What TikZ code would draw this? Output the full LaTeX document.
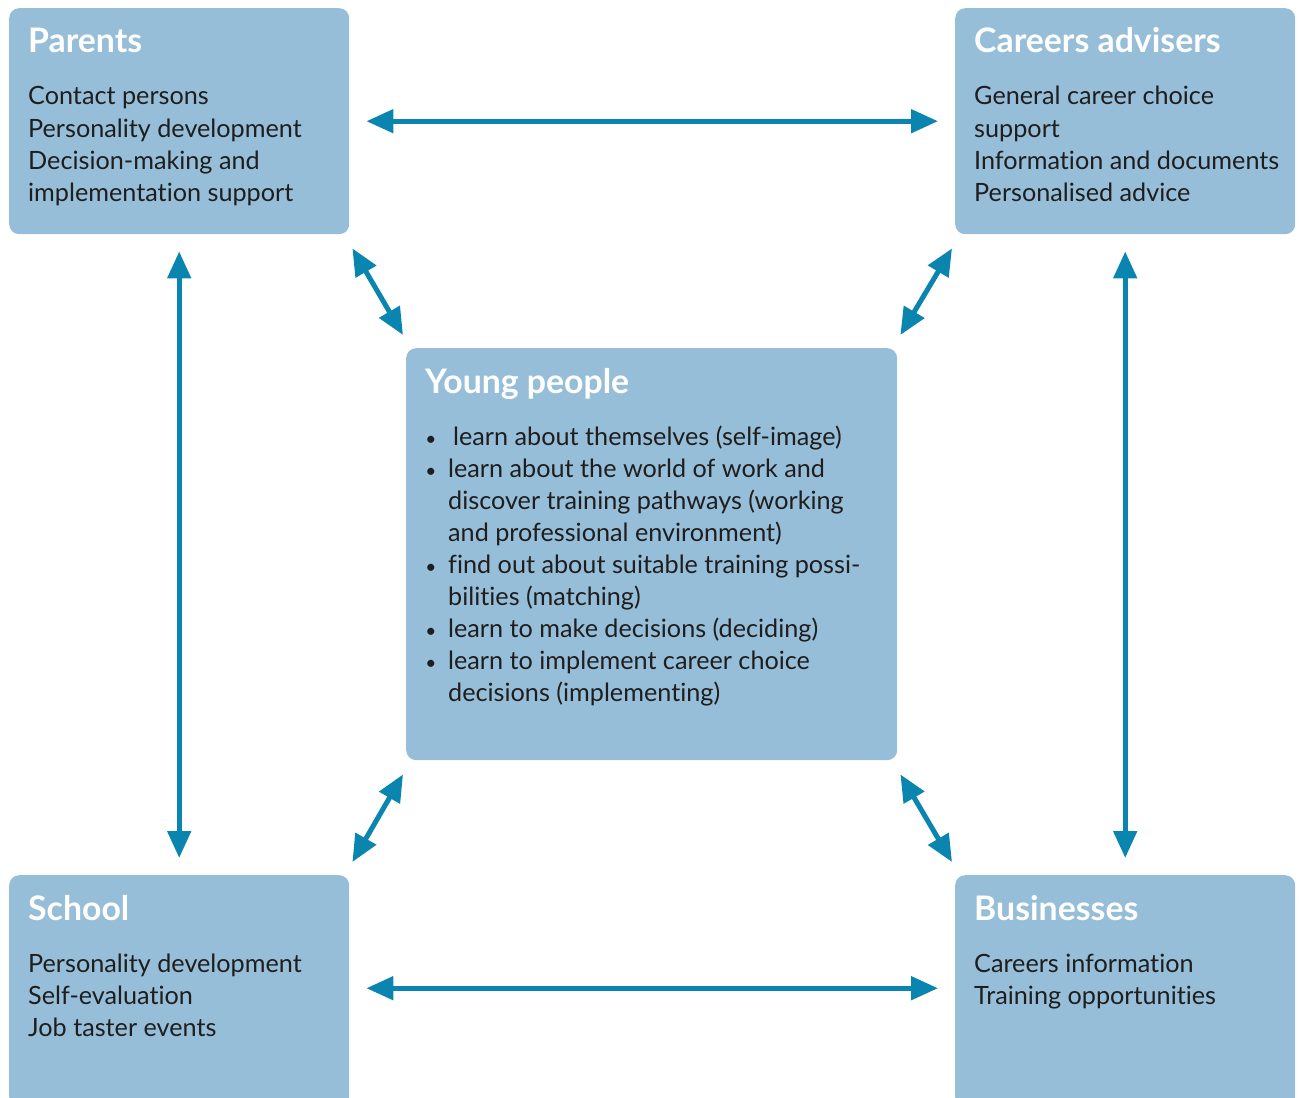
\documentclass[tikz,border=0pt]{standalone}
\usepackage{fontspec}
\setmainfont{Lato}[Ligatures=NoCommon]
\usetikzlibrary{arrows.meta,calc}
\definecolor{boxblue}{HTML}{97BED8}
\definecolor{arrowblue}{HTML}{0A85B0}
\definecolor{bodytext}{HTML}{1E1E1E}
\tikzset{
  box/.style={fill=boxblue, rounded corners=10pt, draw=none, inner sep=0pt, anchor=north west},
  title/.style={anchor=base west, inner sep=0pt, text=white, font=\fontsize{33.8}{38}\bfseries\selectfont},
  body/.style={anchor=base west, inner sep=0pt, text=bodytext, font=\fontsize{25.2}{32}\selectfont},
  bul/.style={anchor=base, inner sep=0pt, text=bodytext, font=\fontsize{19}{32}\selectfont},
  arr/.style={draw=arrowblue, line width=5pt, {Triangle[length=27pt,width=23pt]}-{Triangle[length=27pt,width=23pt]}},
}
\newcommand{\boxlines}[4]{%
  \foreach \t [count=\i] in {#4} {
    \node[body] (#1-\i) at (#2, #3 + 32*\i - 32) {\t};
  }%
}
\begin{document}
\begin{tikzpicture}[x=1pt,y=-1pt]
\useasboundingbox (0,0) rectangle (1300,1097);
% boxes
\node[box, minimum width=340pt, minimum height=226pt] (parents) at (9,8) {};
\node[box, minimum width=340pt, minimum height=226pt] (careers) at (955,8) {};
\node[box, minimum width=491pt, minimum height=412pt] (young) at (406,348) {};
\node[box, minimum width=340pt, minimum height=232pt] (school) at (9,875) {};
\node[box, minimum width=340pt, minimum height=232pt] (business) at (955,875) {};
% titles
\node[title] (parents-t) at (28,53) {Parents};
\node[title] (careers-t) at (974,53) {Careers advisers};
\node[title] (young-t) at (425,393) {Young people};
\node[title] (school-t) at (28,920) {School};
\node[title] (business-t) at (974,920) {Businesses};
% body text
\boxlines{pb}{28}{105}{Contact persons, Personality development, Decision-making and, implementation support}
\boxlines{cb}{974}{105}{General career choice, support, Information and documents, Personalised advice}
\boxlines{sb}{28}{972}{Personality development, Self-evaluation, Job taster events}
\boxlines{bb}{974}{972}{Careers information, Training opportunities}
\boxlines{yb}{448}{445}{\hspace{5pt}learn about themselves (self-image), learn about the world of work and, discover training pathways (working, and professional environment), find out about suitable training possi-, bilities (matching), learn to make decisions (deciding), learn to implement career choice, decisions (implementing)}
\foreach \k in {1,2,5,7,8} {
  \node[bul] (yd-\k) at (431, 445 + 32*\k - 32) {•};
}
% arrows
\draw[arr] ($(parents.east)+(17,0)$) -- ($(careers.west)+(-17,0)$);
\draw[arr] ($(school.east)+(17,-3)$) -- ($(business.west)+(-17,-3)$);
\draw[arr] ($(parents.south)+(0,17)$) -- ($(school.north)+(0,-17)$);
\draw[arr] ($(careers.south)+(0,17)$) -- ($(business.north)+(0,-17)$);
\draw[arr] ($(parents.south east)+(3,14)$) -- ($(young.north west)+(-3,-13)$);
\draw[arr] ($(careers.south west)+(-3,14)$) -- ($(young.north east)+(3,-13)$);
\draw[arr] ($(school.north east)+(3,-13)$) -- ($(young.south west)+(-3,14)$);
\draw[arr] ($(business.north west)+(-3,-13)$) -- ($(young.south east)+(3,14)$);
\end{tikzpicture}
\end{document}
